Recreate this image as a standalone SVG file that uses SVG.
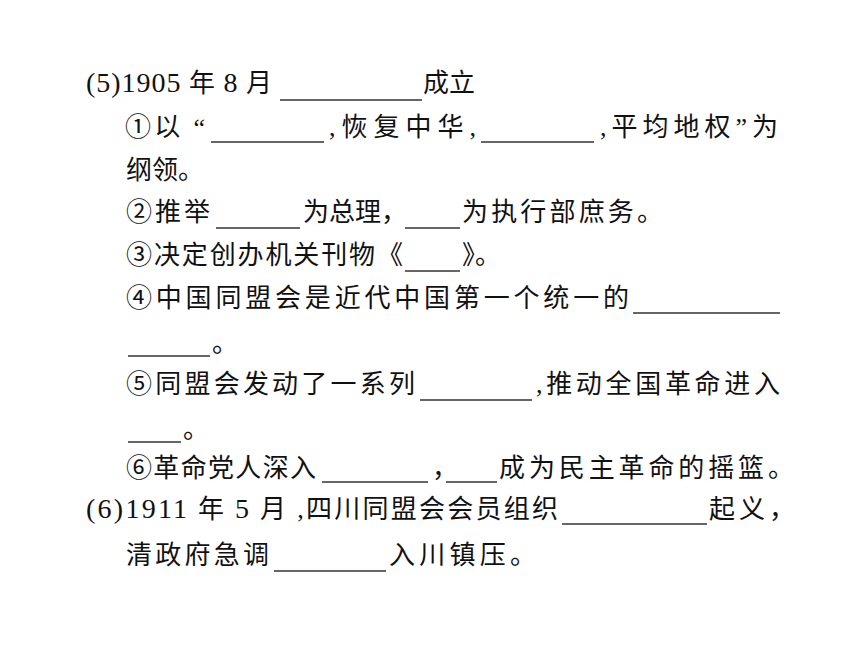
<svg xmlns="http://www.w3.org/2000/svg" width="860" height="645" viewBox="0 0 860 645">
<style>
.t{font-family:"Liberation Serif","Noto Sans CJK SC",serif;font-size:26px;fill:#111}
.n{font-size:28px}
.u{stroke:#333;stroke-width:1.4;fill:none}
</style>
<rect width="860" height="645" fill="#fff"/>
<g id="line1">
<text class="t" x="86" y="92" textLength="186" lengthAdjust="spacing"><tspan class="n">(5)1905</tspan> 年 <tspan class="n">8</tspan> 月</text>
<line class="u" x1="280" y1="100" x2="422" y2="100"/>
<text class="t" x="423" y="92">成立</text>
</g>
<g id="line2">
<text class="t" x="125" y="136" textLength="80" lengthAdjust="spacing">①以 “</text>
<line class="u" x1="211" y1="142" x2="324" y2="142"/>
<text class="t" x="329" y="136" textLength="147" lengthAdjust="spacing">,恢复中华,</text>
<line class="u" x1="481" y1="142" x2="594" y2="142"/>
<text class="t" x="600" y="136" textLength="178" lengthAdjust="spacing">,平均地权”为</text>
</g>
<g id="line3">
<text class="t" x="126" y="179">纲领。</text>
</g>
<g id="line4">
<text class="t" x="126" y="221" textLength="84" lengthAdjust="spacing">②推举</text>
<line class="u" x1="216" y1="228" x2="300" y2="228"/>
<text class="t" x="303" y="221">为总理，</text>
<line class="u" x1="405" y1="228" x2="460" y2="228"/>
<text class="t" x="462" y="221" textLength="201" lengthAdjust="spacing">为执行部庶务。</text>
</g>
<g id="line5">
<text class="t" x="126" y="264" textLength="277" lengthAdjust="spacing">③决定创办机关刊物《</text>
<line class="u" x1="405" y1="271" x2="460" y2="271"/>
<text class="t" x="462" y="264">》。</text>
</g>
<g id="line6">
<text class="t" x="126" y="307" textLength="503" lengthAdjust="spacing">④中国同盟会是近代中国第一个统一的</text>
<line class="u" x1="633" y1="313" x2="780" y2="313"/>
</g>
<g id="line7">
<line class="u" x1="128" y1="356" x2="210" y2="356"/>
<text class="t" x="212" y="352">。</text>
</g>
<g id="line8">
<text class="t" x="126" y="393" textLength="289" lengthAdjust="spacing">⑤同盟会发动了一系列</text>
<line class="u" x1="420" y1="400" x2="532" y2="400"/>
<text class="t" x="536" y="393" textLength="244" lengthAdjust="spacing">,推动全国革命进入</text>
</g>
<g id="line9">
<line class="u" x1="128" y1="442" x2="181" y2="442"/>
<text class="t" x="183" y="438">。</text>
</g>
<g id="line10">
<text class="t" x="126" y="477" textLength="190" lengthAdjust="spacing">⑥革命党人深入</text>
<line class="u" x1="322" y1="482" x2="428" y2="482"/>
<text class="t" x="432" y="477">，</text>
<line class="u" x1="446" y1="482" x2="497" y2="482"/>
<text class="t" x="499" y="477" textLength="295" lengthAdjust="spacing">成为民主革命的摇篮。</text>
</g>
<g id="line11">
<text class="t" x="86" y="518" textLength="472" lengthAdjust="spacing"><tspan class="n">(6)1911</tspan> 年 <tspan class="n">5</tspan> 月 ,四川同盟会会员组织</text>
<line class="u" x1="562" y1="524" x2="707" y2="524"/>
<text class="t" x="709" y="518" textLength="86" lengthAdjust="spacing">起义，</text>
</g>
<g id="line12">
<text class="t" x="126" y="564" textLength="143" lengthAdjust="spacing">清政府急调</text>
<line class="u" x1="274" y1="571" x2="386" y2="571"/>
<text class="t" x="389" y="564" textLength="147" lengthAdjust="spacing">入川镇压。</text>
</g>
</svg>
